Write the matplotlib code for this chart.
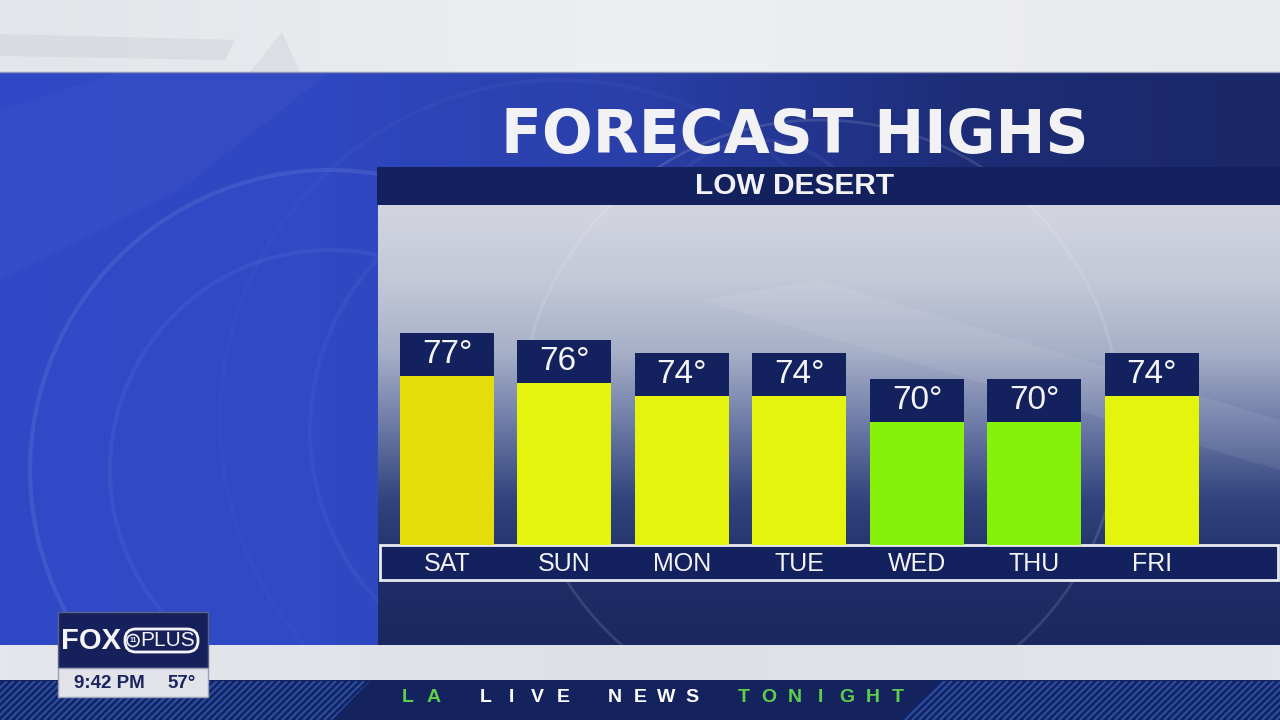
import numpy as np
import matplotlib
matplotlib.use("Agg")
import matplotlib.pyplot as plt
from matplotlib.patches import Rectangle, Circle, FancyBboxPatch, Polygon
from matplotlib.transforms import blended_transform_factory
from matplotlib.colors import to_rgb

# ---- data ----
days = ["SAT", "SUN", "MON", "TUE", "WED", "THU", "FRI"]
highs = [77, 76, 74, 74, 70, 70, 74]
bar_colors = ["#e5dd0b", "#e4f40c", "#e4f40c", "#e4f40c", "#86f20a", "#86f20a", "#e4f40c"]
title = "FORECAST HIGHS"
subtitle = "LOW DESERT"
ticker_words = [("LA", "#5fcf4a"), ("LIVE", "#ffffff"), ("NEWS", "#ffffff"), ("TONIGHT", "#5fcf4a")]
clock = "9:42 PM"
current_temp = "57°"

W, H = 1280, 720
NAVY = "#13215e"
FONT = "Liberation Sans"

fig = plt.figure(figsize=(12.8, 7.2), dpi=100)
bg = fig.add_axes([0, 0, 1, 1])
bg.set_xlim(0, W)
bg.set_ylim(H, 0)
bg.axis("off")


def grad_img(c_list, n=256, horizontal=False):
    cols = np.array([to_rgb(c) for c in c_list])
    t = np.linspace(0, 1, n)
    pos = np.linspace(0, 1, len(cols))
    arr = np.stack([np.interp(t, pos, cols[:, k]) for k in range(3)], axis=-1)
    if horizontal:
        return arr[np.newaxis, :, :]
    return arr[:, np.newaxis, :]


# main blue background
bg.imshow(grad_img(["#2f49c6", "#2f47c0", "#2a3fa8", "#1d2d78", "#1a2866"], horizontal=True),
          extent=[0, W, 645, 72], aspect="auto", zorder=0)
bg.add_patch(Circle((330, 470), 300, facecolor="#3550d0", edgecolor="none", alpha=0.25, zorder=1))
for (cx, cy, r, a) in [(330, 470, 300, 0.25), (330, 470, 220, 0.15), (560, 430, 250, 0.12),
                       (560, 420, 340, 0.08), (760, 250, 110, 0.12)]:
    bg.add_patch(Circle((cx, cy), r, fill=False, edgecolor="#6f86e0", lw=3, alpha=a, zorder=1))
bg.add_patch(Polygon([[0, 110], [120, 72], [330, 72], [180, 190], [0, 280]], closed=True,
                     facecolor="#4a60cc", alpha=0.2, edgecolor="none", zorder=1))

# top light strip
bg.imshow(grad_img(["#e4e5ea", "#eeeff2", "#e9eaee"], horizontal=True),
          extent=[0, W, 72, 0], aspect="auto", zorder=2)
bg.add_patch(Polygon([[0, 34], [235, 40], [225, 60], [0, 56]], closed=True,
                     facecolor="#d2d4de", edgecolor="none", alpha=0.6, zorder=2))
bg.add_patch(Polygon([[250, 72], [282, 32], [300, 72]], closed=True,
                     facecolor="#d8dae2", edgecolor="none", alpha=0.7, zorder=2))
bg.plot([0, W], [72, 72], color="#8c95b8", lw=1, zorder=3)

# chart panel
panel = grad_img(["#d3d6e0", "#c4c9d8", "#a7b0c8", "#6c7aa6", "#33457e", "#1f2d67", "#1b2860"])
bg.imshow(panel, extent=[378, W, 645, 205], aspect="auto", zorder=2)
bg.add_patch(Circle((820, 420), 300, fill=False, edgecolor="#ffffff", lw=2, alpha=0.12, zorder=2))
bg.add_patch(Polygon([[700, 300], [820, 280], [1280, 420], [1280, 470]], closed=True,
                     facecolor="#ffffff", alpha=0.07, edgecolor="none", zorder=2))

# title and subtitle band
bg.text(795, 137, title, color="#f2f2f4", fontsize=43, fontweight="bold", family="DejaVu Sans",
        ha="center", va="center", zorder=5)
bg.add_patch(Rectangle((377, 167), W - 377, 38, facecolor=NAVY, edgecolor="none", zorder=4))
bg.text(795, 186, subtitle, color="#f2f2f4", fontsize=21.5, fontweight="bold", family=FONT,
        ha="center", va="center", zorder=5)

# day label box
bg.add_patch(Rectangle((380, 545), 898, 35, facecolor=NAVY, edgecolor="#e8eaf0", lw=2, zorder=4))

# lower light strip and bottom band
bg.imshow(grad_img(["#e6e7ec", "#dfe0e6", "#e4e5ea"], horizontal=True),
          extent=[0, W, 680, 645], aspect="auto", zorder=2)
bg.add_patch(Rectangle((0, 680), W, 40, facecolor="#14235e", edgecolor="none", zorder=3))
clipL = Polygon([[0, 681], [370, 681], [332, 720], [0, 720]], closed=True, transform=bg.transData)
clipR = Polygon([[940, 681], [1280, 681], [1280, 720], [902, 720]], closed=True, transform=bg.transData)
for x0 in np.arange(-40, 1320, 7):
    if x0 < 400:
        cp = clipL
    elif x0 > 860:
        cp = clipR
    else:
        continue
    ln, = bg.plot([x0, x0 + 40], [720, 681], color="#2c55b0", lw=1.6, alpha=0.85, zorder=3,
                  solid_capstyle="butt")
    ln.set_clip_path(cp)

# ticker text, letter-spaced
pitch = 25.8
slot = 0
for word, col in ticker_words:
    for ch in word:
        bg.text(408 + pitch * slot, 697, ch, color=col, fontsize=14, fontweight="bold",
                family=FONT, ha="center", va="center", zorder=6)
        slot += 1
    slot += 1

# FOX logo box + clock
bg.add_patch(Rectangle((58, 612), 150, 56, facecolor="#16205a", edgecolor="#5a6288", lw=1, zorder=6))
bg.text(91, 641, "FOX", color="#f4f4f6", fontsize=21, fontweight="heavy", family=FONT,
        ha="center", va="center", zorder=7)
bg.add_patch(FancyBboxPatch((125, 629), 73, 23, boxstyle="round,pad=0,rounding_size=11",
                            facecolor="none", edgecolor="#f4f4f6", lw=2, zorder=7))
bg.add_patch(Circle((133, 640.5), 6, facecolor="none", edgecolor="#f4f4f6", lw=1.2, zorder=7))
bg.text(133, 641, "11", color="#f4f4f6", fontsize=5, fontweight="bold", family=FONT,
        ha="center", va="center", zorder=7)
bg.text(168, 641, "PLUS", color="#f4f4f6", fontsize=15, family=FONT,
        ha="center", va="center", zorder=7)
bg.add_patch(Rectangle((58, 668), 150, 29, facecolor="#e2e3e8", edgecolor="#9aa0b8", lw=1, zorder=6))
bg.text(109, 683, clock, color="#1a2560", fontsize=13.5, fontweight="bold", family=FONT,
        ha="center", va="center", zorder=7)
bg.text(182, 683, current_temp, color="#1a2560", fontsize=13.5, fontweight="bold", family=FONT,
        ha="center", va="center", zorder=7)

# ---- bar chart ----
ax = fig.add_axes([378 / W, (H - 545) / H, (W - 378) / W, (545 - 205) / H])
ax.set_facecolor("none")
for s in ax.spines.values():
    s.set_visible(False)
ax.set_xticks([])
ax.set_yticks([])
base = 44.74
ax.set_ylim(base, 96.48)
ax.set_xlim(-0.587, 7.09)
x = np.arange(len(days))
box_h = 6.54
ax.bar(x, np.array(highs) - base, bottom=base, width=0.8, color=bar_colors, zorder=2)
ax.bar(x, box_h, bottom=np.array(highs) - box_h, width=0.8, color=NAVY, zorder=3)
for xi, t in zip(x, highs):
    ax.text(xi, t - box_h / 2, f"{t}°", color="#f4f4f6", fontsize=24, family=FONT,
            ha="center", va="center", zorder=4)
trans = blended_transform_factory(ax.transData, ax.transAxes)
for xi, d in zip(x, days):
    ax.text(xi, -0.055, d, color="#f4f4f6", fontsize=18, family=FONT, transform=trans,
            ha="center", va="center", clip_on=False, zorder=6)

fig.savefig("out.png", dpi=100)
